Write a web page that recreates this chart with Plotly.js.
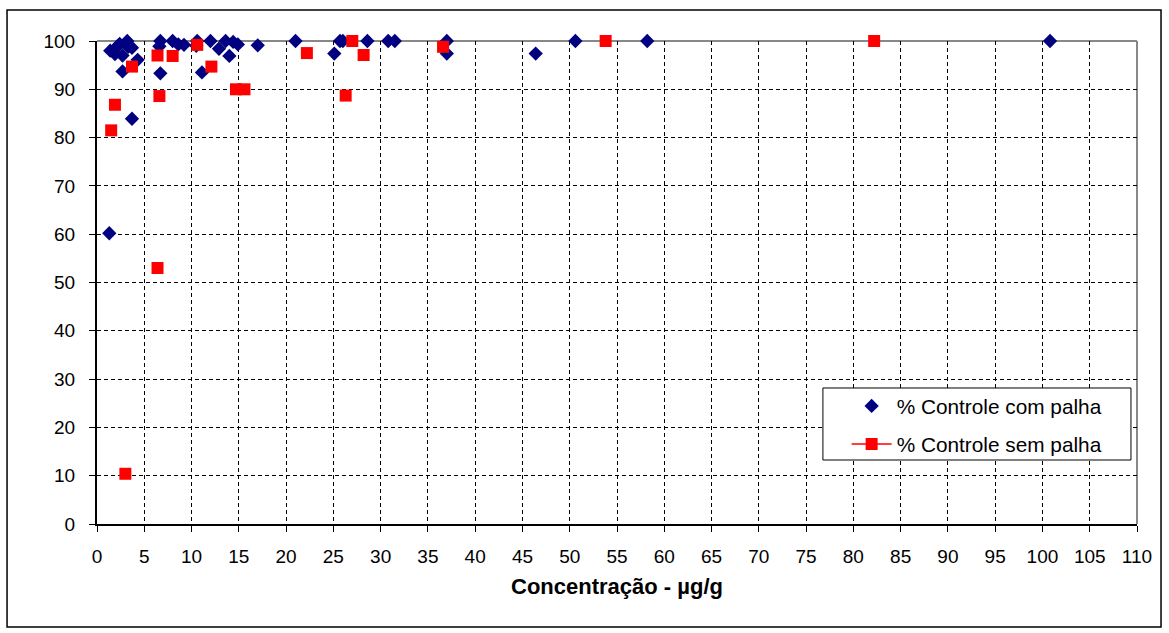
<!DOCTYPE html>
<html>
<head>
<meta charset="utf-8">
<script src="https://cdn.plot.ly/plotly-3.0.1.min.js"></script>
<style>html,body{margin:0;padding:0;background:#fff;}#chart{width:1169px;height:633px;}</style>
</head>
<body>
<div id="chart"></div>
<script>
// % Controle com palha
const comX = [1.4, 1.3, 1.9, 2.2, 2.4, 2.7, 2.7, 3.2, 3.3, 3.7, 3.7, 4.3, 6.7, 6.6, 6.7, 8.0, 8.6, 9.2, 10.6, 10.5, 11.1, 12.0, 12.9, 13.6, 14.0, 14.4, 14.9, 17.0, 21.0, 25.1, 25.7, 26.0, 28.6, 30.8, 31.5, 37.0, 37.0, 46.4, 50.6, 58.2, 100.8];
const comY = [98.0, 60.2, 97.3, 99.0, 99.4, 97.0, 93.7, 100, 98.8, 98.6, 83.9, 96.1, 100, 98.9, 93.3, 100, 99.3, 99.2, 100, 99.0, 93.5, 100, 98.4, 100, 96.9, 99.8, 99.3, 99.1, 100, 97.4, 100, 100, 100, 100, 100, 100, 97.4, 97.4, 100, 100, 100];
// % Controle sem palha
const semX = [1.5, 1.9, 3.0, 3.7, 6.4, 6.4, 6.6, 8.0, 10.6, 12.1, 14.7, 15.6, 22.2, 26.3, 27.0, 28.2, 36.6, 53.8, 82.2];
const semY = [81.5, 86.8, 10.4, 94.7, 97.0, 53.0, 88.6, 96.9, 99.2, 94.7, 90.0, 90.0, 97.5, 88.7, 100, 97.1, 98.8, 100, 100];
const seriesNames = ['% Controle com palha', '% Controle sem palha'];
const xTitle = 'Concentração - µg/g';

const FONT = 'Liberation Sans, Arial, sans-serif';

const traces = [
  {x: comX, y: comY, type: 'scatter', mode: 'markers', name: seriesNames[0], legendgroup: 'a',
   marker: {symbol: 'diamond', size: 11, color: '#000080', line: {width: 0}}, cliponaxis: false},
  {x: semX, y: semY, type: 'scatter', mode: 'markers', name: seriesNames[1], legendgroup: 'b', showlegend: false,
   marker: {symbol: 'square', size: 12, color: '#FF0000', line: {width: 0}}, cliponaxis: false},
  {x: [null], y: [null], type: 'scatter', mode: 'lines+markers', name: seriesNames[1], legendgroup: 'b',
   line: {color: '#FF0000', width: 1.5}, marker: {symbol: 'square', size: 12, color: '#FF0000'}}
];

const layout = {
  width: 1169, height: 633,
  margin: {l: 97, r: 32, t: 41, b: 109},
  paper_bgcolor: '#fff', plot_bgcolor: '#fff',
  font: {family: FONT, color: '#000', size: 19},
  showlegend: true,
  legend: {x: 0.7208, xanchor: 'left', y: 0.286, yanchor: 'top', bgcolor: 'rgba(0,0,0,0)', borderwidth: 0,
           font: {family: FONT, size: 20.8, color: '#000'}, itemwidth: 40, tracegroupgap: 8},
  xaxis: {range: [0, 110], dtick: 5, tick0: 0, showgrid: true, gridcolor: '#000', gridwidth: 1, griddash: '4px,3px',
          zeroline: false, showline: true, linecolor: '#000', linewidth: 2, ticks: 'outside', ticklen: 6, tickcolor: '#000', tickwidth: 1,
          tickfont: {family: FONT, size: 19}, ticklabelstandoff: 8,
          title: {text: xTitle, font: {family: FONT, size: 22, weight: 'bold'}, standoff: 13}, fixedrange: true},
  yaxis: {range: [0, 100], dtick: 10, tick0: 0, showgrid: true, gridcolor: '#000', gridwidth: 1, griddash: '4px,3px',
          zeroline: false, showline: true, linecolor: '#000', linewidth: 2, ticks: 'outside', ticklen: 6, tickcolor: '#000', tickwidth: 1,
          tickfont: {family: FONT, size: 19}, ticklabelstandoff: 10, fixedrange: true},
  shapes: [
    {type: 'line', xref: 'paper', yref: 'paper', x0: 0, x1: 1, y0: 1, y1: 1, line: {color: '#888', width: 2}, layer: 'below'},
    {type: 'line', xref: 'paper', yref: 'paper', x0: 1, x1: 1, y0: 0, y1: 1, line: {color: '#888', width: 2}, layer: 'below'},
    {type: 'rect', xref: 'paper', yref: 'paper', x0: 0.698, x1: 0.9942, y0: 0.1325, y1: 0.2816, line: {color: '#000', width: 1}, fillcolor: '#fff', layer: 'above'},
    {type: 'rect', xref: 'paper', yref: 'paper', x0: -0.0865, x1: 1.0231, y0: -0.2133, y1: 1.0642, line: {color: '#000', width: 1.5}, fillcolor: 'rgba(0,0,0,0)'}
  ]
};

Plotly.newPlot('chart', traces, layout, {staticPlot: true, displayModeBar: false});
</script>
</body>
</html>
